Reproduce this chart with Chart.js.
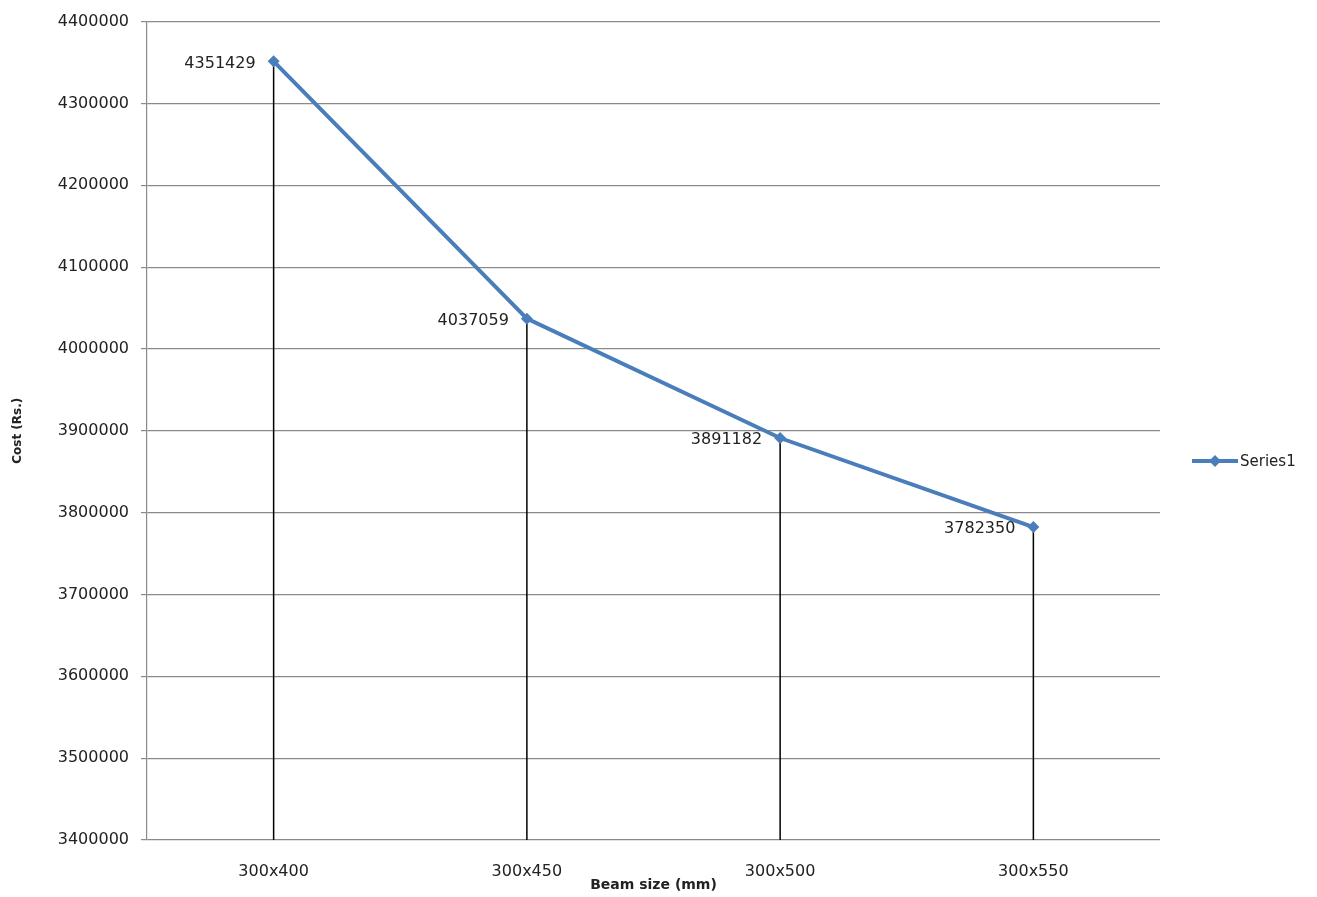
<!DOCTYPE html>
<html>
<head>
<meta charset="utf-8">
<script src="https://cdn.jsdelivr.net/npm/chart.js@4"></script>
<style>
  html, body { margin: 0; padding: 0; background: #fff; }
  #wrap { width: 1317px; height: 897px; }
</style>
</head>
<body>
<div id="wrap"><canvas id="myChart" width="1317" height="897"></canvas></div>
<script>
const beamSizes = ["300x400", "300x450", "300x500", "300x550"];
const costValues = [4351429, 4037059, 3891182, 3782350];
const seriesName = "Series1";
const yMin = 3400000;
const yMax = 4400000;
const yStep = 100000;

const blue = "#4a7ebb";
const tickFont = { family: "DejaVu Sans", size: 16 };

// vertical drop lines from each point to the x axis, plus value labels
const dropLines = {
  id: "dropLines",
  beforeDatasetsDraw(chart) {
    const ctx = chart.ctx;
    const meta = chart.getDatasetMeta(0);
    const bottom = chart.chartArea.bottom;
    ctx.save();
    ctx.strokeStyle = "#000";
    ctx.lineWidth = 1.5;
    meta.data.forEach(pt => {
      ctx.beginPath();
      ctx.moveTo(pt.x, pt.y);
      ctx.lineTo(pt.x, bottom);
      ctx.stroke();
    });
    ctx.restore();
  },
  afterDatasetsDraw(chart) {
    const ctx = chart.ctx;
    const meta = chart.getDatasetMeta(0);
    const vals = chart.data.datasets[0].data;
    ctx.save();
    ctx.font = "16px 'DejaVu Sans'";
    ctx.fillStyle = "#222";
    ctx.textAlign = "right";
    ctx.textBaseline = "middle";
    meta.data.forEach((pt, i) => {
      ctx.fillText(String(vals[i]), pt.x - 18, pt.y + 2);
    });
    ctx.restore();
  }
};

// legend at the right, excel style: line with diamond then label
const sideLegend = {
  id: "sideLegend",
  afterDraw(chart) {
    const ctx = chart.ctx;
    const ds = chart.data.datasets[0];
    const y = 461;
    ctx.save();
    ctx.strokeStyle = ds.borderColor;
    ctx.lineWidth = 4;
    ctx.beginPath();
    ctx.moveTo(1192, y);
    ctx.lineTo(1238, y);
    ctx.stroke();
    ctx.fillStyle = ds.borderColor;
    ctx.beginPath();
    ctx.moveTo(1215, y - 6);
    ctx.lineTo(1221, y);
    ctx.lineTo(1215, y + 6);
    ctx.lineTo(1209, y);
    ctx.closePath();
    ctx.fill();
    ctx.font = "15px 'DejaVu Sans'";
    ctx.fillStyle = "#222";
    ctx.textAlign = "left";
    ctx.textBaseline = "middle";
    ctx.fillText(ds.label, 1240, y + 1);
    ctx.restore();
  }
};

const ctx = document.getElementById("myChart").getContext("2d");
const chart = new Chart(ctx, {
  type: "line",
  data: {
    labels: beamSizes,
    datasets: [{
      label: seriesName,
      data: costValues,
      borderColor: blue,
      backgroundColor: blue,
      borderWidth: 4,
      fill: false,
      tension: 0,
      pointStyle: "rectRot",
      pointRadius: 6,
      pointBackgroundColor: blue,
      pointBorderColor: blue,
      pointBorderWidth: 0
    }]
  },
  options: {
    responsive: false,
    animation: false,
    layout: { padding: { left: 0, top: 18, right: 157, bottom: 0 } },
    plugins: {
      legend: { display: false },
      tooltip: { enabled: false }
    },
    scales: {
      x: {
        offset: true,
        grid: { display: false, drawTicks: false },
        border: { display: false },
        ticks: { font: tickFont, color: "#222", padding: 22, maxRotation: 0 },
        title: {
          display: true,
          text: "Beam size (mm)",
          font: { family: "DejaVu Sans", size: 14, weight: "bold" },
          color: "#222",
          padding: { top: 0, bottom: 3 }
        },
        afterFit(scale) { scale.height = 57; }
      },
      y: {
        min: yMin,
        max: yMax,
        ticks: {
          stepSize: yStep,
          font: tickFont,
          color: "#222",
          padding: 12,
          callback: v => String(v)
        },
        grid: { color: "#8a8a8a", lineWidth: 1.2, tickLength: 6 },
        border: { color: "#8a8a8a", width: 1.2 },
        title: {
          display: true,
          text: "Cost (Rs.)",
          font: { family: "DejaVu Sans", size: 12, weight: "bold" },
          color: "#222",
          padding: { top: 11, bottom: 0 }
        },
        afterFit(scale) { scale.width = 147; }
      }
    }
  },
  plugins: [dropLines, sideLegend]
});
</script>
</body>
</html>
